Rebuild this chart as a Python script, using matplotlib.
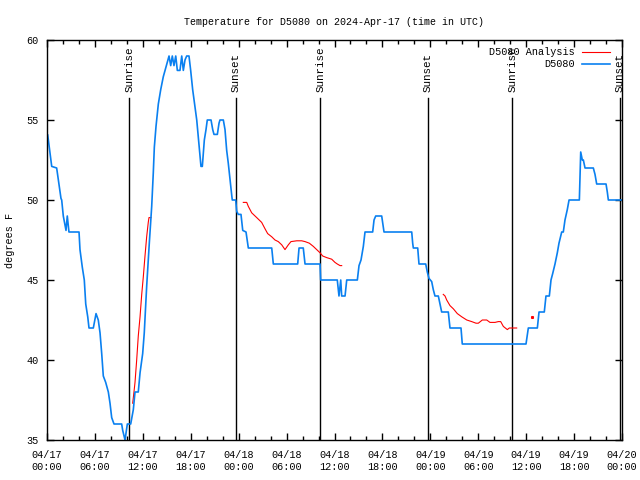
# -*- coding: utf-8 -*-

import numpy
import pandas
import matplotlib
matplotlib.use('Agg')
import matplotlib.pyplot as plt

# %% Dane: godziny od 2024-04-17 00:00 UTC
blue_hours = [0.09, 0.59, 1.21, 1.75, 1.84, 2.04, 2.38, 2.54, 2.75, 4.01, 4.13, 4.42, 4.67, 4.85,
              5.10, 5.26, 5.80, 6.14, 6.42, 6.64, 6.85, 7.05, 7.35, 7.68, 7.89, 8.10, 8.39, 9.35,
              9.48, 9.77, 10.06, 10.48, 10.81, 11.02, 11.43, 11.65, 11.98, 12.18, 12.48, 12.81,
              13.11, 13.31, 13.44, 13.65, 13.94, 14.24, 14.56, 14.78, 14.99, 15.28, 15.49, 15.69,
              15.90, 16.12, 16.32, 16.65, 16.87, 17.07, 17.28, 17.49, 17.78, 17.99, 18.24, 18.53,
              18.75, 19.00, 19.28, 19.45, 19.70, 19.91, 20.07, 20.54, 20.75, 20.91, 21.33, 21.54,
              21.66, 22.08, 22.29, 22.50, 22.70, 22.92, 23.13, 23.20, 23.63, 23.75, 23.95, 24.29,
              24.51, 24.92, 25.21, 28.14, 28.34, 31.39, 31.56, 32.09, 32.31, 34.19, 34.27, 36.35,
              36.56, 36.78, 36.90, 37.32, 37.53, 38.86, 39.07, 39.32, 39.61, 39.82, 40.78, 40.95,
              41.16, 41.91, 42.20, 45.67, 45.79, 45.87, 46.42, 46.58, 47.42, 47.62, 47.83, 48.17,
              48.37, 48.58, 49.00, 49.21, 49.42, 50.25, 50.46, 51.84, 52.00, 59.98, 60.27, 61.40,
              61.61, 62.27, 62.48, 62.90, 63.11, 63.32, 63.61, 63.90, 64.11, 64.45, 64.65, 64.86,
              65.15, 65.37, 66.66, 66.83, 67.03, 67.16, 67.37, 68.41, 68.62, 68.83, 70.00, 70.16,
              70.29, 71.97]
blue_temps = [54.06, 52.1, 52, 50.1, 50, 49, 48.1, 49, 48, 48, 46.9, 45.8, 45, 43.5,
              42.7, 42, 42, 42.9, 42.5, 41.7, 40.4, 39, 38.6, 38, 37.3, 36.4, 36, 36,
              35.6, 35, 36, 36, 36.9, 38, 38, 39.2, 40.4, 41.7, 44.6, 47.3,
              49.6, 51.7, 53.3, 54.6, 56, 56.9, 57.7, 58.1, 58.5, 59, 58.4, 59,
              58.4, 59, 58.1, 58.1, 59, 58.1, 58.75, 59, 59, 58.1, 56.9, 55.8,
              55, 53.6, 52.1, 52.1, 53.75, 54.4, 55, 55, 54.4, 54.1, 54.1, 54.8,
              55, 55, 54.4, 53.1, 52.3, 51.25, 50.3, 50, 50, 49.3, 49.1, 49.1,
              48.1, 48, 47, 47, 46, 46, 47, 47, 46, 46, 45, 45,
              44, 45, 44, 44, 45, 45, 45.9, 46.25, 47.1, 48, 48, 48.75,
              49, 49, 48, 48, 47.3, 47, 47, 46, 46, 45.5, 45.1, 44.9,
              44.4, 44, 44, 43.5, 43, 43, 42, 42, 41, 41, 42, 42,
              43, 43, 44, 44, 45, 45.4, 46, 46.7, 47.3, 48, 48, 48.75,
              49.4, 50, 50, 53, 52.5, 52.5, 52, 52, 51.6, 51, 51, 50.5,
              50, 50]

red_hours = [10.73, 10.89, 11.02, 11.23, 11.43, 11.65, 11.86, 12.06, 12.27, 12.48, 12.68, 12.77,
             13.02, 13.5,
             24.58, 25.01, 25.21, 25.63, 26.26, 26.88, 27.30, 27.63, 28.14, 28.55, 28.96, 29.39,
             29.80, 30.22, 30.55, 31.27, 31.89, 32.31, 32.85, 33.35, 33.77, 34.19, 34.52, 35.02,
             35.65, 36.06, 36.35, 36.69, 36.90, 37.5,
             49.62, 49.84, 50.05, 50.46, 50.88, 51.38, 51.93, 52.56, 53.18, 53.72, 54.01, 54.51,
             55.06, 55.47, 56.10, 56.51, 56.81, 57.14, 57.64, 57.89, 58.81]
red_temps = [37.3, 38, 38.6, 40, 41.5, 42.7, 44.1, 45.2, 46.5, 47.7, 48.6, 48.9,
             48.9, numpy.nan,
             49.85, 49.85, 49.6, 49.2, 48.9, 48.6, 48.2, 47.9, 47.7, 47.5, 47.4, 47.2,
             46.9, 47.2, 47.4, 47.45, 47.45, 47.4, 47.3, 47.1, 46.9, 46.7, 46.5, 46.4,
             46.3, 46.1, 46, 45.9, 45.9, numpy.nan,
             44.1, 44, 43.75, 43.4, 43.2, 42.9, 42.7, 42.5, 42.4, 42.3, 42.3, 42.5,
             42.5, 42.35, 42.35, 42.4, 42.4, 42.1, 41.9, 42, 42]
red_dot_hours = [60.77]
red_dot_temps = [42.7]

sunrise_hours = [10.31, 34.23, 58.27]
sunset_hours = [23.63, 47.65, 71.72]

# %% Wykres
plt.rcParams['font.family'] = ['Liberation Mono', 'DejaVu Sans Mono']
plt.rcParams['font.size'] = 7.3

fig = plt.figure(figsize=(6.4, 4.8), dpi=100)
ax = fig.add_axes([47/640, 40/480, 575/640, 400/480])

for h in sunrise_hours:
    ax.axvline(h, ymin=0, ymax=0.855, color='black', linewidth=1)
    ax.text(h, 0.87, 'Sunrise', transform=ax.get_xaxis_transform(), rotation=90,
            ha='center', va='bottom', fontsize=7.8)
for h in sunset_hours:
    ax.axvline(h, ymin=0, ymax=0.855, color='black', linewidth=1)
    ax.text(h, 0.87, 'Sunset', transform=ax.get_xaxis_transform(), rotation=90,
            ha='center', va='bottom', fontsize=7.8)

ax.plot(red_hours, red_temps, color='#ff0000', linewidth=0.8, label='D5080 Analysis')
ax.plot(red_dot_hours, red_dot_temps, 's', color='#ff0000', markersize=1.2)
ax.plot(blue_hours, blue_temps, color='#0a80f0', linewidth=1.2, label='D5080')

ax.set_xlim(0, 72)
ax.set_ylim(35, 60)
start = pandas.Timestamp('2024-04-17 00:00')
major = list(range(0, 73, 6))
ax.set_xticks(major)
ax.set_xticklabels([(start + pandas.Timedelta(hours=h)).strftime('%m/%d\n%H:%M') for h in major],
                   linespacing=1.25)
ax.set_xticks(list(range(0, 73, 2)), minor=True)
ax.set_yticks([35, 40, 45, 50, 55, 60])
ax.tick_params(axis='both', which='both', direction='in', top=True, right=True, width=1)
ax.tick_params(axis='both', which='major', length=5)
ax.tick_params(axis='x', which='major', pad=7)
ax.tick_params(axis='y', which='major', pad=6)
ax.tick_params(axis='x', which='minor', length=3)
for s in ax.spines.values():
    s.set_linewidth(1)

ax.set_ylabel('degrees F', labelpad=8)
ax.set_title('Temperature for D5080 on 2024-Apr-17 (time in UTC)', pad=11, fontsize=7.2)
ax.legend(loc='upper right', frameon=False, markerfirst=False, handlelength=2.8,
          borderaxespad=0.3, labelspacing=0.2, handletextpad=0.7,
          bbox_to_anchor=(1 - 5/575, 1.0))

plt.savefig('out.png', dpi=100)
